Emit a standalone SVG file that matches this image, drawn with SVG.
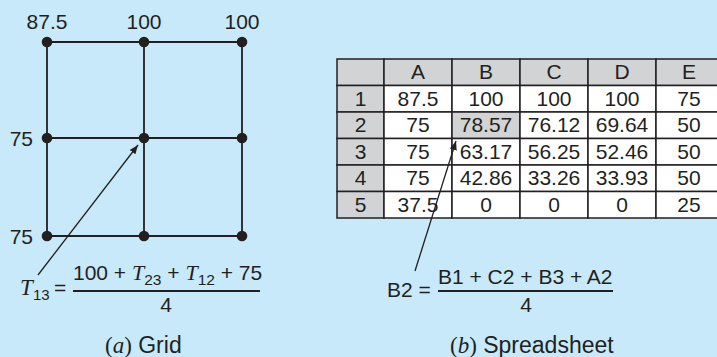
<svg xmlns="http://www.w3.org/2000/svg" width="717" height="357" viewBox="0 0 717 357">
<defs>
<style>
.bg{fill:#c7e9f9}
.ln{stroke:#231f20;stroke-width:1.8;fill:none}
.dot{fill:#231f20}
.t{font-family:"Liberation Sans",Arial,sans-serif;font-size:21px;fill:#231f20}
.c{text-anchor:middle}
.it{font-family:"Liberation Serif","Times New Roman",serif;font-style:italic}
.sr{font-family:"Liberation Serif","Times New Roman",serif}
.cap{font-size:23px}
.gray{fill:#d1d3d4;stroke:#231f20;stroke-width:1.5}
.white{fill:#ffffff;stroke:#231f20;stroke-width:1.5}
.arr{stroke:#231f20;stroke-width:1.3;fill:none}
</style>
<marker id="ah" viewBox="0 0 10 10" refX="10" refY="5" markerWidth="9" markerHeight="9" markerUnits="userSpaceOnUse" orient="auto">
<path d="M0,1 L10,5 L0,9 Z" fill="#231f20"/>
</marker>
</defs>
<rect class="bg" x="0" y="0" width="717" height="357"/>

<g id="grid">
<path class="ln" d="M47,42 H242 M47,138 H242 M47,236 H242 M47,42 V236 M144,42 V236 M242,42 V236"/>
<g id="nodes">
<circle class="dot" cx="47" cy="42" r="5.3"/>
<circle class="dot" cx="144" cy="42" r="5.3"/>
<circle class="dot" cx="242" cy="42" r="5.3"/>
<circle class="dot" cx="47" cy="138" r="5.3"/>
<circle class="dot" cx="144" cy="138" r="5.3"/>
<circle class="dot" cx="242" cy="138" r="5.3"/>
<circle class="dot" cx="47" cy="236" r="5.3"/>
<circle class="dot" cx="144" cy="236" r="5.3"/>
<circle class="dot" cx="242" cy="236" r="5.3"/>
</g>
<g id="grid-labels">
<text class="t c" x="47" y="28.5">87.5</text>
<text class="t c" x="144" y="28.5">100</text>
<text class="t c" x="242" y="28.5">100</text>
<text class="t" x="33" y="145.5" text-anchor="end">75</text>
<text class="t" x="33" y="243.5" text-anchor="end">75</text>
</g>
</g>

<g id="grid-formula">
<text class="t" x="20" y="295"><tspan class="it" font-size="23">T</tspan><tspan font-size="15" dy="5" x="33">13</tspan><tspan dy="-5" x="54">=</tspan></text>
<line class="ln" x1="73" y1="291" x2="260" y2="291" stroke-width="1.3"/>
<text class="t" x="73" y="280">100 + <tspan class="it" font-size="22">T</tspan><tspan font-size="15.5" dy="5">23</tspan><tspan dy="-5"> + </tspan><tspan class="it" font-size="22">T</tspan><tspan font-size="15.5" dy="5">12</tspan><tspan dy="-5"> + 75</tspan></text>
<text class="t c" x="166" y="312">4</text>
</g>

<g id="caption-a">
<text class="t cap" x="105" y="353"><tspan class="sr">(</tspan><tspan class="it">a</tspan><tspan class="sr">)</tspan> Grid</text>
</g>

<g id="spreadsheet">
<g id="header-row">
<rect class="gray" x="337" y="59" width="47" height="26.5"/>
<rect class="gray" x="384" y="59" width="68" height="26.5"/>
<rect class="gray" x="452" y="59" width="68" height="26.5"/>
<rect class="gray" x="520" y="59" width="68" height="26.5"/>
<rect class="gray" x="588" y="59" width="68" height="26.5"/>
<rect class="gray" x="656" y="59" width="70" height="26.5"/>
</g>
<g id="row-headers">
<rect class="gray" x="337" y="85.5" width="47" height="26.5"/>
<rect class="gray" x="337" y="112" width="47" height="26.5"/>
<rect class="gray" x="337" y="138.5" width="47" height="26.5"/>
<rect class="gray" x="337" y="165" width="47" height="26.5"/>
<rect class="gray" x="337" y="191.5" width="47" height="26.5"/>
</g>
<g id="cells">
<rect class="white" x="384" y="85.5" width="68" height="26.5"/>
<rect class="white" x="452" y="85.5" width="68" height="26.5"/>
<rect class="white" x="520" y="85.5" width="68" height="26.5"/>
<rect class="white" x="588" y="85.5" width="68" height="26.5"/>
<rect class="white" x="656" y="85.5" width="70" height="26.5"/>
<rect class="white" x="384" y="112" width="68" height="26.5"/>
<rect class="gray" x="452" y="112" width="68" height="26.5"/>
<rect class="white" x="520" y="112" width="68" height="26.5"/>
<rect class="white" x="588" y="112" width="68" height="26.5"/>
<rect class="white" x="656" y="112" width="70" height="26.5"/>
<rect class="white" x="384" y="138.5" width="68" height="26.5"/>
<rect class="white" x="452" y="138.5" width="68" height="26.5"/>
<rect class="white" x="520" y="138.5" width="68" height="26.5"/>
<rect class="white" x="588" y="138.5" width="68" height="26.5"/>
<rect class="white" x="656" y="138.5" width="70" height="26.5"/>
<rect class="white" x="384" y="165" width="68" height="26.5"/>
<rect class="white" x="452" y="165" width="68" height="26.5"/>
<rect class="white" x="520" y="165" width="68" height="26.5"/>
<rect class="white" x="588" y="165" width="68" height="26.5"/>
<rect class="white" x="656" y="165" width="70" height="26.5"/>
<rect class="white" x="384" y="191.5" width="68" height="26.5"/>
<rect class="white" x="452" y="191.5" width="68" height="26.5"/>
<rect class="white" x="520" y="191.5" width="68" height="26.5"/>
<rect class="white" x="588" y="191.5" width="68" height="26.5"/>
<rect class="white" x="656" y="191.5" width="70" height="26.5"/>
</g>
<g id="cell-text" class="t c">
<text x="418" y="79">A</text><text x="486" y="79">B</text><text x="554" y="79">C</text><text x="622" y="79">D</text><text x="689" y="79">E</text>
<text x="360.5" y="105.5">1</text><text x="360.5" y="132">2</text><text x="360.5" y="158.5">3</text><text x="360.5" y="185">4</text><text x="360.5" y="211.5">5</text>
<text x="418" y="105.5">87.5</text><text x="486" y="105.5">100</text><text x="554" y="105.5">100</text><text x="622" y="105.5">100</text><text x="689" y="105.5">75</text>
<text x="418" y="132">75</text><text x="486" y="132">78.57</text><text x="554" y="132">76.12</text><text x="622" y="132">69.64</text><text x="689" y="132">50</text>
<text x="418" y="158.5">75</text><text x="486" y="158.5">63.17</text><text x="554" y="158.5">56.25</text><text x="622" y="158.5">52.46</text><text x="689" y="158.5">50</text>
<text x="418" y="185">75</text><text x="486" y="185">42.86</text><text x="554" y="185">33.26</text><text x="622" y="185">33.93</text><text x="689" y="185">50</text>
<text x="418" y="211.5">37.5</text><text x="486" y="211.5">0</text><text x="554" y="211.5">0</text><text x="622" y="211.5">0</text><text x="689" y="211.5">25</text>
</g>
</g>

<g id="sheet-formula">
<text class="t" x="387" y="297">B2 =</text>
<line class="ln" x1="438" y1="291" x2="613" y2="291" stroke-width="1.3"/>
<text class="t" x="438" y="284">B1 + C2 + B3 + A2</text>
<text class="t c" x="526" y="312">4</text>
</g>

<g id="caption-b">
<text class="t cap" x="450" y="353"><tspan class="sr">(</tspan><tspan class="it">b</tspan><tspan class="sr">)</tspan> Spreadsheet</text>
</g>

<g id="connectors">
<line class="arr" x1="38" y1="275" x2="138" y2="145" marker-end="url(#ah)"/>
<line class="arr" x1="415" y1="271" x2="456" y2="141" marker-end="url(#ah)"/>
</g>
</svg>
